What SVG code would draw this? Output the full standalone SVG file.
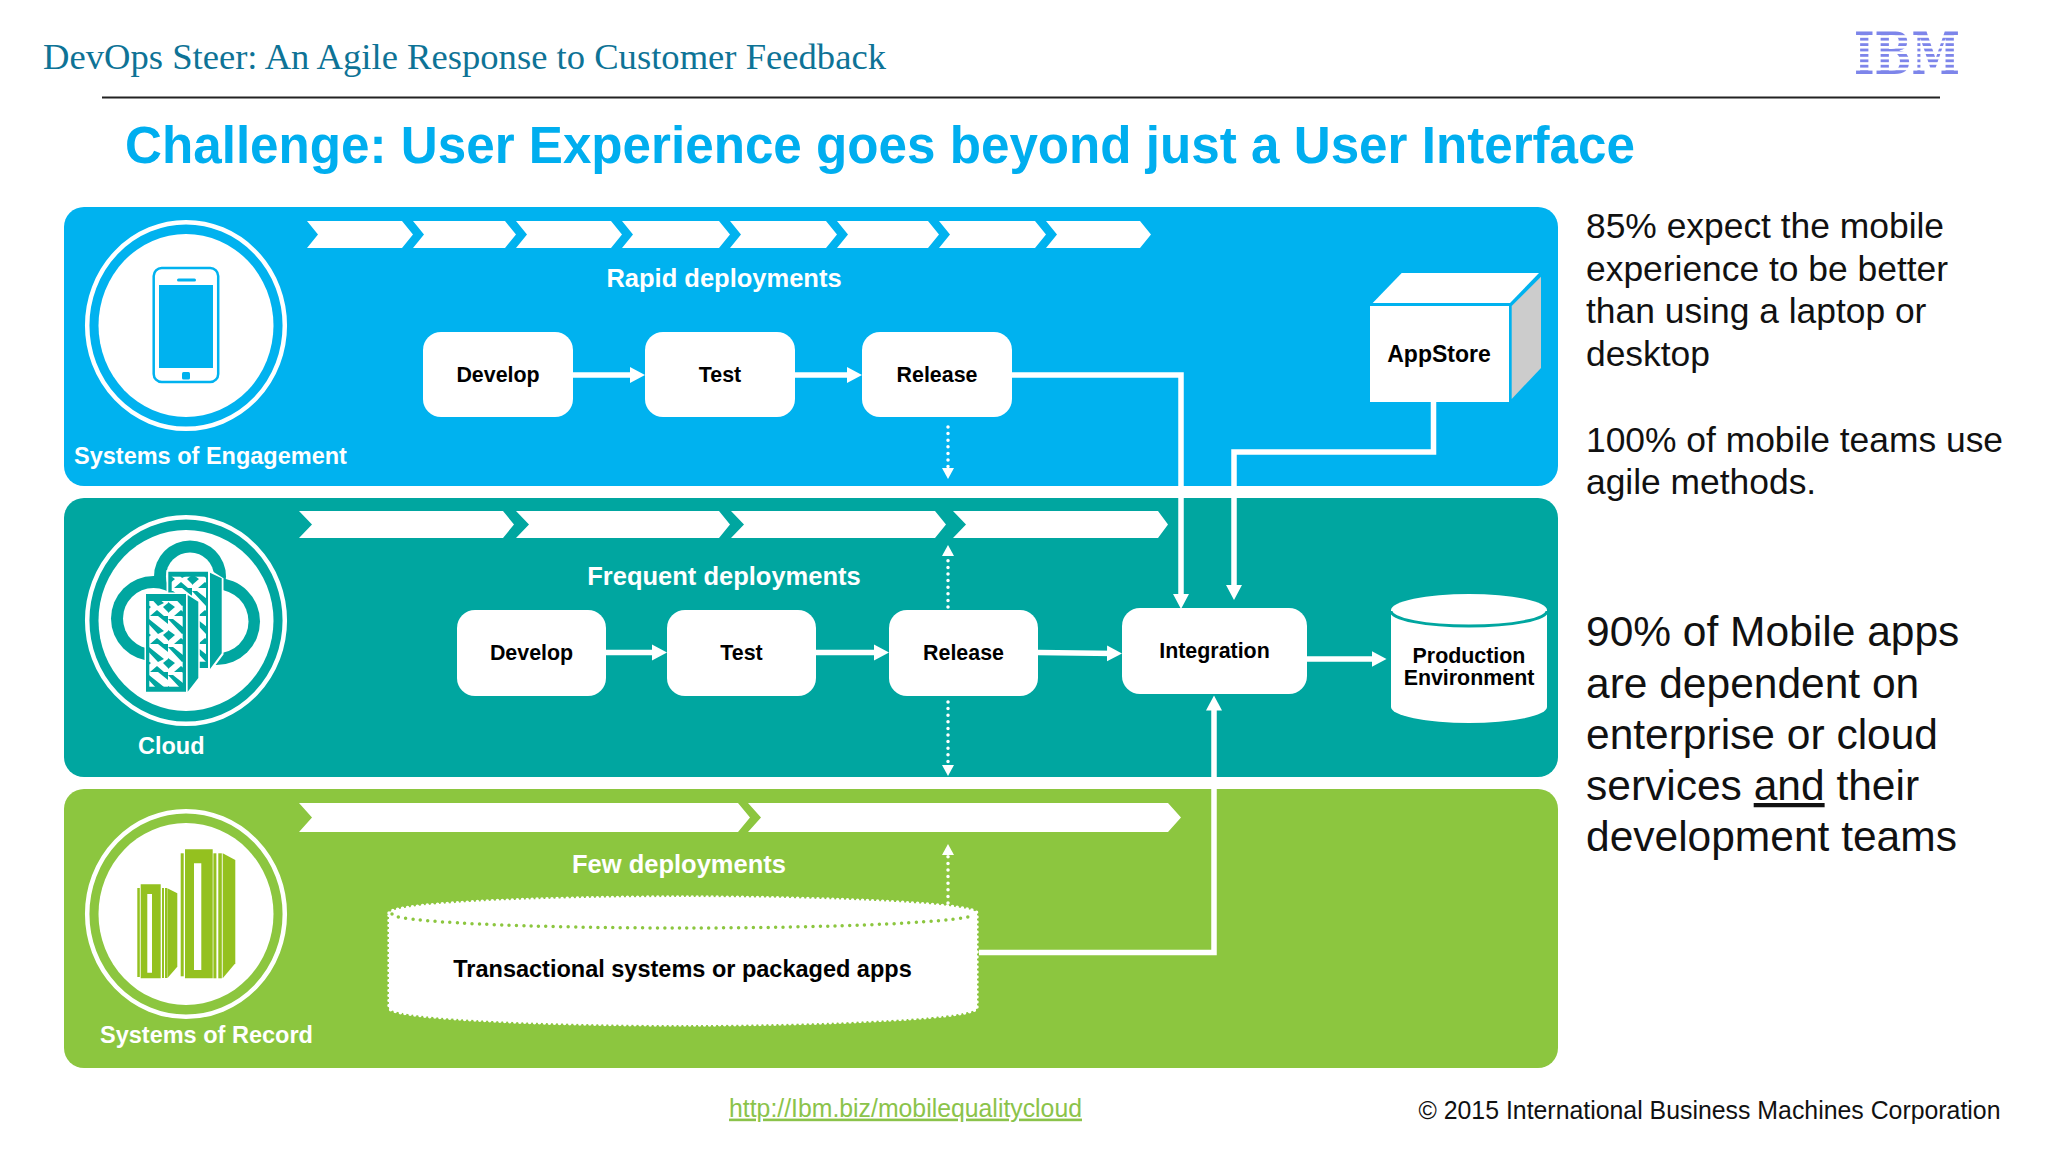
<svg xmlns="http://www.w3.org/2000/svg" width="2048" height="1152" viewBox="0 0 2048 1152">
<style>
text{font-family:"Liberation Sans",Arial,sans-serif}
.b{font-weight:700}
.k{fill:#000;font-weight:700;font-size:21.4px;text-anchor:middle}
.w{fill:#fff;font-weight:700;font-size:25.5px}
.l{fill:#fff;font-weight:700;font-size:23.5px}
.m{text-anchor:middle}
.s35{font-size:35.4px;fill:#111}
.s42{font-size:42.5px;fill:#111}
.box{fill:#fff}
.chev{fill:#fff}
.con{fill:none;stroke:#fff;stroke-width:5.5}
.dot{fill:none;stroke:#fff;stroke-width:3.5;stroke-linecap:round;stroke-dasharray:0 6.6}
.lime{fill:#94c11f}
.ring{fill:none;stroke:#fff;stroke-width:4.5}
</style>
<defs>
<marker id="ah" markerUnits="userSpaceOnUse" markerWidth="16" markerHeight="18" refX="8" refY="8.5" orient="auto"><path d="M0,0.5 L15,8.5 L0,16.5 Z" fill="#fff"/></marker>
<marker id="ad" markerUnits="userSpaceOnUse" markerWidth="12" markerHeight="14" refX="1" refY="7" orient="auto"><path d="M0,1 L11,7 L0,13 Z" fill="#fff"/></marker>
<pattern id="mesh" width="24" height="28" patternUnits="userSpaceOnUse">
<rect width="24" height="28" fill="#fff"/>
<path d="M0,3 L5,3 L20,15 L14,18 Z M14,0 L24,0 L24,8 Z M0,14 L7,19 L0,25 Z M6,28 L13,22 L20,28 Z M19,19 L24,15 L24,24 Z" fill="#00a6a0"/>
</pattern>
</defs>
<rect width="2048" height="1152" fill="#fff"/>
<g id="header">
<text x="43" y="69" font-size="36" textLength="843" lengthAdjust="spacingAndGlyphs" style="font-family:'Liberation Serif',serif" fill="#0e7396">DevOps Steer: An Agile Response to Customer Feedback</text>
<line x1="102" y1="97.5" x2="1940" y2="97.5" stroke="#222" stroke-width="2"/>
<text x="125" y="163" font-size="51" class="b" textLength="1510" lengthAdjust="spacingAndGlyphs" fill="#00aeef">Challenge: User Experience goes beyond just a User Interface</text>
</g>
<g id="ibm-logo">
<text x="1854" y="74" font-size="58" font-weight="700" textLength="106" lengthAdjust="spacingAndGlyphs" style="font-family:'DejaVu Serif',serif" fill="#7d85ea">IBM</text>
<g fill="#fff"><rect x="1850" y="35.2" width="114" height="2.6"/><rect x="1850" y="40.6" width="114" height="2.6"/><rect x="1850" y="46" width="114" height="2.6"/><rect x="1850" y="51.4" width="114" height="2.6"/><rect x="1850" y="56.8" width="114" height="2.6"/><rect x="1850" y="62.2" width="114" height="2.6"/><rect x="1850" y="67.6" width="114" height="2.6"/></g>
</g>
<g id="panels">
<rect id="panel-engagement" x="64" y="207" width="1494" height="279" rx="20" fill="#00b2ef"/>
<rect id="panel-cloud" x="64" y="498" width="1494" height="279" rx="20" fill="#00a6a0"/>
<rect id="panel-record" x="64" y="789" width="1494" height="279" rx="20" fill="#8cc63f"/>
</g>
<g id="chevrons">
<g class="chev">
<path d="M307,221 H402 L413,234.500 L402,248 H307 L318,234.500 Z"/>
<path d="M413,221 H505 L516,234.500 L505,248 H413 L424,234.500 Z"/>
<path d="M516,221 H611 L622,234.500 L611,248 H516 L527,234.500 Z"/>
<path d="M622,221 H719 L730,234.500 L719,248 H622 L633,234.500 Z"/>
<path d="M730,221 H826 L837,234.500 L826,248 H730 L741,234.500 Z"/>
<path d="M837,221 H928 L939,234.500 L928,248 H837 L848,234.500 Z"/>
<path d="M939,221 H1035 L1046,234.500 L1035,248 H939 L950,234.500 Z"/>
<path d="M1046,221 H1140 L1151,234.500 L1140,248 H1046 L1057,234.500 Z"/>
<path d="M299,511 H503 L514,524.500 L503,538 H299 L312,524.500 Z"/>
<path d="M516,511 H719 L730,524.500 L719,538 H516 L529,524.500 Z"/>
<path d="M731,511 H935 L946,524.500 L935,538 H731 L744,524.500 Z"/>
<path d="M953,511 H1158 L1168,524.500 L1158,538 H953 L966,524.500 Z"/>
<path d="M299,803 H738 L750,817.500 L738,832 H299 L312,817.500 Z"/>
<path d="M748,803 H1168 L1181,817.500 L1168,832 H748 L761,817.500 Z"/>
</g>
</g>
<g id="connectors">
<path class="con" d="M573,375 H638" marker-end="url(#ah)"/>
<path class="con" d="M795,375 H855" marker-end="url(#ah)"/>
<path class="con" d="M606,652.500 H660" marker-end="url(#ah)"/>
<path class="con" d="M816,652.500 H882" marker-end="url(#ah)"/>
<path class="con" d="M1038,652.500 L1115,653.500" marker-end="url(#ah)"/>
<path class="con" d="M1307,659 H1379.500" marker-end="url(#ah)"/>
<path class="con" d="M1012,375 H1181 V602" marker-end="url(#ah)"/>
<path class="con" d="M1433.500,402 V452 H1234 V593" marker-end="url(#ah)"/>
<path class="con" d="M979,952.500 H1214 V702.500" marker-end="url(#ah)"/>
<path class="dot" d="M948,427 V469" marker-end="url(#ad)"/>
<path class="dot" d="M948,607 V555" marker-end="url(#ad)"/>
<path class="dot" d="M948,702 V766" marker-end="url(#ad)"/>
<path class="dot" d="M948,903 V854" marker-end="url(#ad)"/>
</g>
<g id="systems-of-engagement">
<ellipse class="ring" cx="186" cy="325.500" rx="98.800" ry="103.300"/>
<ellipse cx="186" cy="325.500" rx="87.500" ry="91.500" fill="#fff"/>
<rect x="153.700" y="268" width="64.500" height="114" rx="8" fill="none" stroke="#00b2ef" stroke-width="2.500"/>
<rect x="159" y="285" width="54" height="83" fill="#00b2ef"/>
<rect x="177" y="278.500" width="19" height="3" rx="1.500" fill="#00b2ef"/>
<rect x="182" y="372" width="8" height="7.500" rx="1.500" fill="#00b2ef"/>
<text class="l" x="74" y="464">Systems of Engagement</text>
</g>
<g id="cloud">
<ellipse class="ring" cx="186" cy="620.500" rx="98.800" ry="103.300"/>
<ellipse cx="186" cy="620.500" rx="87.500" ry="90.500" fill="#fff"/>
<g fill="#00a6a0"><circle cx="153.500" cy="618.500" r="42.500"/><circle cx="190" cy="576.500" r="36"/><circle cx="216.500" cy="621.500" r="43.500"/></g>
<g fill="#fff"><circle cx="153.500" cy="618.500" r="30.500"/><circle cx="190" cy="576.500" r="24"/><circle cx="216.500" cy="621.500" r="32"/><rect x="170" y="575" width="40" height="40"/></g>
<path d="M208,571.500 H168 V668 H204 L210,670 L222,654 V579 L210,571.500 Z" fill="#fff" stroke="#fff" stroke-width="3"/>
<path d="M168.300,571.700 H208 V668 H168.300 Z M210,572.700 L221.700,578.300 V653.300 L210,669 Z" fill="#00a6a0"/>
<rect x="171.700" y="576.700" width="34.300" height="85" fill="url(#mesh)"/>
<path d="M146,594 H186 L198.300,601.700 V678 L187.700,691.700 H146 Z" fill="#fff" stroke="#fff" stroke-width="3"/>
<path d="M146,594 H186 V691.700 H146 Z M187.700,595 L198.300,601.700 V678 L187.700,691.700 Z" fill="#00a6a0"/>
<rect x="149.300" y="601" width="33.400" height="85.700" fill="url(#mesh)"/>
<text class="l" x="138" y="753.700">Cloud</text>
</g>
<g id="systems-of-record">
<ellipse class="ring" cx="186" cy="914" rx="98.800" ry="102.800"/>
<ellipse cx="186" cy="914" rx="87.500" ry="91" fill="#fff"/>
<path class="lime" fill-rule="evenodd" d="M140.700,884.300 H160.700 V978.300 H140.700 Z M147.300,894 V972.700 H152 V894 Z"/>
<rect class="lime" x="137.300" y="888" width="2.500" height="89"/>
<rect class="lime" x="162" y="888" width="2" height="90"/>
<rect class="lime" x="165" y="888" width="2" height="90"/>
<path class="lime" d="M167.300,888.300 L177.300,893.300 V966.700 L167.300,978.300 Z"/>
<path class="lime" fill-rule="evenodd" d="M185,849.300 H212.700 V978.300 H185 Z M194,863.300 V970 H201.300 V863.300 Z"/>
<rect class="lime" x="180.700" y="853.300" width="3" height="123"/>
<rect class="lime" x="213.400" y="853.300" width="3" height="125"/>
<rect class="lime" x="218.300" y="853.300" width="3.500" height="125"/>
<path class="lime" d="M222.700,853.300 L235.300,860 V963.300 L222.700,978.300 Z"/>
<text class="l" x="100" y="1042.500">Systems of Record</text>
</g>
<g id="lane-rapid"><text class="w m" x="724" y="287">Rapid deployments</text></g>
<g id="lane-frequent"><text class="w m" x="724" y="585">Frequent deployments</text></g>
<g id="lane-few"><text class="w m" x="679" y="872.700">Few deployments</text></g>
<g id="r1-develop"><rect class="box" x="423" y="332" width="150" height="85" rx="18"/><text class="k" x="498" y="381.500">Develop</text></g>
<g id="r1-test"><rect class="box" x="645" y="332" width="150" height="85" rx="18"/><text class="k" x="720" y="381.500">Test</text></g>
<g id="r1-release"><rect class="box" x="862" y="332" width="150" height="85" rx="18"/><text class="k" x="937" y="381.500">Release</text></g>
<g id="r2-develop"><rect class="box" x="457" y="610" width="149" height="86" rx="18"/><text class="k" x="531.500" y="660">Develop</text></g>
<g id="r2-test"><rect class="box" x="667" y="610" width="149" height="86" rx="18"/><text class="k" x="741.500" y="660">Test</text></g>
<g id="r2-release"><rect class="box" x="889" y="610" width="149" height="86" rx="18"/><text class="k" x="963.500" y="660">Release</text></g>
<g id="integration"><rect class="box" x="1122" y="608" width="185" height="86" rx="18"/><text class="k" x="1214.500" y="658">Integration</text></g>
<g id="appstore">
<rect class="box" x="1370" y="306" width="139" height="96"/>
<path class="box" d="M1372.700,303 L1401.700,273 H1539 L1510,303 Z"/>
<path d="M1511.700,306 L1541,276.700 V368 L1511.700,399 Z" fill="#ccc"/>
<text class="k" x="1439" y="362" style="font-size:23px">AppStore</text>
</g>
<g id="production">
<path class="box" d="M1391,610 A78,16 0 0 1 1547,610 V707 A78,16 0 0 1 1391,707 Z"/>
<path d="M1391,611 A78,15 0 0 0 1547,611" fill="none" stroke="#00a6a0" stroke-width="3"/>
<text class="k" x="1469" y="662.500">Production</text>
<text class="k" x="1469" y="685">Environment</text>
</g>
<g id="transactional">
<path class="box" d="M389,913 A294,16 0 0 1 977,913 V1008 A294,17 0 0 1 389,1008 Z" stroke="#fff" stroke-width="3.500" stroke-linecap="round" stroke-dasharray="0 5"/>
<path d="M392,914 A291,14 0 0 0 974,914" fill="none" stroke="#8cc63f" stroke-width="3.500" stroke-linecap="round" stroke-dasharray="0 7.400"/>
<text class="k" x="682.500" y="977" style="font-size:23.500px">Transactional systems or packaged apps</text>
</g>
<g id="stats">
<text class="s35" x="1586" y="238">85% expect the mobile</text>
<text class="s35" x="1586" y="280.700">experience to be better</text>
<text class="s35" x="1586" y="323.400">than using a laptop or</text>
<text class="s35" x="1586" y="366">desktop</text>
<text class="s35" x="1586" y="451.500">100% of mobile teams use</text>
<text class="s35" x="1586" y="494">agile methods.</text>
<text class="s42" x="1586" y="646">90% of Mobile apps</text>
<text class="s42" x="1586" y="697.500">are dependent on</text>
<text class="s42" x="1586" y="748.500">enterprise or cloud</text>
<text class="s42" x="1586" y="800">services <tspan text-decoration="underline">and</tspan> their</text>
<text class="s42" x="1586" y="851">development teams</text>
</g>
<g id="footer">
<text x="729" y="1116.600" font-size="26" textLength="353" lengthAdjust="spacingAndGlyphs" fill="#8bc34a" text-decoration="underline">http://Ibm.biz/mobilequalitycloud</text>
<text x="1418.500" y="1118.500" font-size="25.500" textLength="582" lengthAdjust="spacingAndGlyphs" fill="#111">© 2015 International Business Machines Corporation</text>
</g>
</svg>
